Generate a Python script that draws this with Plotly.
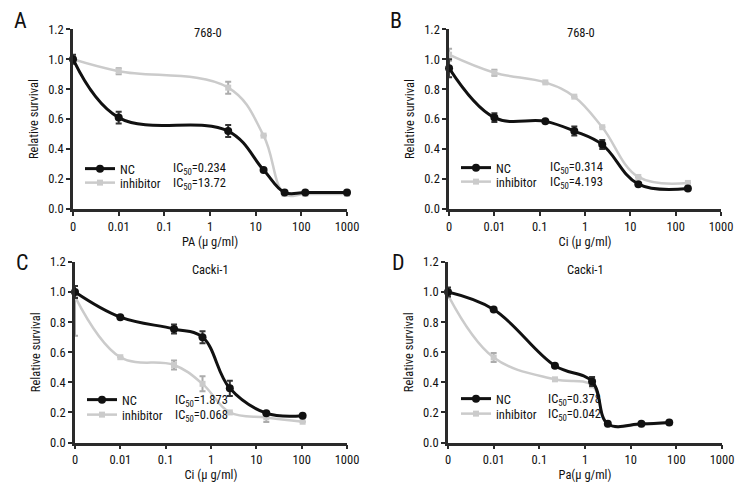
import plotly.graph_objects as go

# ---------------- data ----------------
# x = concentration (0 is plotted at 0.001 on the log axis, labelled "0")
tick_vals = [0.001, 0.01, 0.1, 1, 10, 100, 1000]
tick_text = ["0", "0.01", "0.1", "1", "10", "100", "1000"]
y_ticks = [0.0, 0.2, 0.4, 0.6, 0.8, 1.0, 1.2]
y_tick_text = ["0.0", "0.2", "0.4", "0.6", "0.8", "1.0", "1.2"]

# Panel A: 768-0, PA
a_nc_x = [0.001, 0.01, 2.5, 14.9, 43, 122, 1000]
a_nc_y = [1.00, 0.61, 0.52, 0.26, 0.11, 0.11, 0.11]
a_nc_e = [0.03, 0.04, 0.04, 0.0, 0.0, 0.0, 0.0]
a_in_x = [0.001, 0.01, 2.5, 14.9, 43, 122, 1000]
a_in_y = [1.00, 0.92, 0.81, 0.49, 0.10, 0.10, 0.10]
a_in_e = [0.0, 0.02, 0.04, 0.0, 0.0, 0.0, 0.0]

# Panel B: 768-0, Ci
b_nc_x = [0.001, 0.01, 0.133, 0.58, 2.4, 15, 186]
b_nc_y = [0.94, 0.61, 0.585, 0.52, 0.43, 0.166, 0.137]
b_nc_e = [0.06, 0.03, 0.0, 0.03, 0.03, 0.0, 0.0]
b_in_x = [0.001, 0.01, 0.133, 0.58, 2.4, 15, 186]
b_in_y = [1.03, 0.91, 0.845, 0.75, 0.546, 0.214, 0.174]
b_in_e = [0.04, 0.02, 0.0, 0.0, 0.0, 0.0, 0.0]

# Panel C: Cacki-1, Ci
c_nc_x = [0.001, 0.01, 0.153, 0.65, 2.6, 16.6, 105]
c_nc_y = [1.00, 0.833, 0.755, 0.70, 0.36, 0.195, 0.178]
c_nc_e = [0.04, 0.0, 0.03, 0.04, 0.05, 0.0, 0.0]
c_in_x = [0.001, 0.01, 0.153, 0.65, 2.6, 16.6, 105]
c_in_y = [0.97, 0.567, 0.515, 0.39, 0.20, 0.167, 0.138]
c_in_e_plus = [0.03, 0.0, 0.03, 0.05, 0.0, 0.03, 0.0]
c_in_e_minus = [0.26, 0.0, 0.03, 0.05, 0.0, 0.03, 0.0]

# Panel D: Cacki-1, Pa
d_nc_x = [0.001, 0.01, 0.22, 1.43, 3.16, 17.2, 70]
d_nc_y = [1.00, 0.884, 0.51, 0.405, 0.124, 0.124, 0.133]
d_nc_e = [0.03, 0.0, 0.0, 0.03, 0.0, 0.0, 0.0]
d_in_x = [0.001, 0.01, 0.22, 1.43, 3.16, 17.2, 70]
d_in_y = [0.98, 0.565, 0.42, 0.38, 0.12, 0.12, 0.13]
d_in_e = [0.02, 0.03, 0.0, 0.0, 0.0, 0.0, 0.0]

panel_letters = ["A", "B", "C", "D"]
panel_titles = ["768-0", "768-0", "Cacki-1", "Cacki-1"]
x_titles = ["PA (μ g/ml)", "Ci (μ g/ml)", "Ci (μ g/ml)", "Pa(μ g/ml)"]
ic50_nc = ["0.234", "0.314", "1.873", "0.378"]
ic50_in = ["13.72", "4.193", "0.068", "0.042"]

# ---------------- style ----------------
FONT = "Roboto Condensed, Liberation Sans Narrow, Roboto, sans-serif"
TXT = "#111111"
BLACK = "#111111"
GRAY = "#cbcbcb"

fig = go.Figure()

x_domains = [[0.0966, 0.459], [0.594, 0.9537], [0.0992, 0.459], [0.5926, 0.955]]
y_domains = [[0.5853, 0.942], [0.5853, 0.942], [0.122, 0.4802], [0.122, 0.4802]]

panels = [
    (a_nc_x, a_nc_y, a_nc_e, a_nc_e, a_in_x, a_in_y, a_in_e, a_in_e),
    (b_nc_x, b_nc_y, b_nc_e, b_nc_e, b_in_x, b_in_y, b_in_e, b_in_e),
    (c_nc_x, c_nc_y, c_nc_e, c_nc_e, c_in_x, c_in_y, c_in_e_plus, c_in_e_minus),
    (d_nc_x, d_nc_y, d_nc_e, d_nc_e, d_in_x, d_in_y, d_in_e, d_in_e),
]

# legend / annotation positions (pixels in 756x504 page)
legend_x = [80, 456, 82, 456]
row_y = [(169, 183), (168, 182), (400, 415), (399, 414)]
ic_x = [171, 548, 173, 546]
title_px = [(208, 33), (581, 33), (210, 269), (585, 269)]
letter_px = [(20, 21), (396, 21), (22, 262), (398, 262)]

W, H = 756, 504
annotations = []
layout_extra = {}


def font(size=12):
    return dict(family=FONT, size=size, color=TXT)


for i, (nx, ny, nep, nem, ix, iy, iep, iem) in enumerate(panels):
    k = "" if i == 0 else str(i + 1)
    xa, ya = "x" + k, "y" + k
    lg_nc = "legend" if i == 0 else "legend" + str(2 * i + 1)
    lg_in = "legend" + str(2 * i + 2)

    fig.add_trace(go.Scatter(
        x=ix, y=iy, mode="lines+markers", name="inhibitor",
        line=dict(color=GRAY, width=2.5, shape="spline", smoothing=1.1),
        marker=dict(color=GRAY, size=6, symbol="square"),
        error_y=dict(type="data", array=iep, arrayminus=iem, color="#acacac",
                     thickness=2, width=3),
        xaxis=xa, yaxis=ya, legend=lg_in, cliponaxis=False,
    ))
    fig.add_trace(go.Scatter(
        x=nx, y=ny, mode="lines+markers", name="NC",
        line=dict(color=BLACK, width=3, shape="spline", smoothing=1.1),
        marker=dict(color=BLACK, size=8, symbol="circle"),
        error_y=dict(type="data", array=nep, arrayminus=nem, color="#333333",
                     thickness=2, width=3),
        xaxis=xa, yaxis=ya, legend=lg_nc, cliponaxis=False,
    ))

    axis_common = dict(showline=True, linecolor="#2a2a2a", linewidth=2.5,
                       ticks="outside", ticklen=4, tickwidth=2, tickcolor="#2a2a2a",
                       showgrid=False, zeroline=False, tickfont=font(12.5),
                       automargin=False)
    layout_extra["xaxis" + k] = dict(
        type="log", range=[-3, 3], domain=x_domains[i], anchor=ya,
        tickvals=tick_vals, ticktext=tick_text,
        title=dict(text=x_titles[i], font=font(12.5), standoff=3),
        **axis_common)
    layout_extra["yaxis" + k] = dict(
        range=[0, 1.2], domain=y_domains[i], anchor=xa,
        tickvals=y_ticks, ticktext=y_tick_text,
        title=dict(text="Relative survival", font=font(12.5), standoff=7),
        **axis_common)

    y1, y2 = row_y[i]
    for lg, yy in ((lg_nc, y1), (lg_in, y2)):
        layout_extra[lg] = dict(x=legend_x[i] / W, y=1 - yy / H,
                                xanchor="left", yanchor="middle",
                                bgcolor="rgba(0,0,0,0)", borderwidth=0,
                                font=font(12.5), itemwidth=30)

    for yy, val in ((y1, ic50_nc[i]), (y2, ic50_in[i])):
        annotations.append(dict(x=ic_x[i] / W, y=1 - yy / H, xref="paper", yref="paper",
                                text="IC<sub>50</sub>=" + val, showarrow=False,
                                xanchor="left", yanchor="middle", font=font(12.5)))
    tx, ty = title_px[i]
    annotations.append(dict(x=tx / W, y=1 - ty / H, xref="paper", yref="paper",
                            text=panel_titles[i], showarrow=False,
                            xanchor="center", yanchor="middle", font=font(12.5)))
    px_, py_ = letter_px[i]
    annotations.append(dict(x=px_ / W, y=1 - py_ / H, xref="paper", yref="paper",
                            text=panel_letters[i], showarrow=False,
                            xanchor="center", yanchor="middle", font=font(22)))

fig.update_layout(
    width=W, height=H,
    margin=dict(l=0, r=0, t=0, b=0, pad=0, autoexpand=False),
    paper_bgcolor="white", plot_bgcolor="white",
    showlegend=True,
    annotations=annotations,
    **layout_extra,
)

fig.write_html("out.html",
               config={"displayModeBar": False},
               post_script="document.body.style.margin='0';document.body.style.overflow='hidden';")
